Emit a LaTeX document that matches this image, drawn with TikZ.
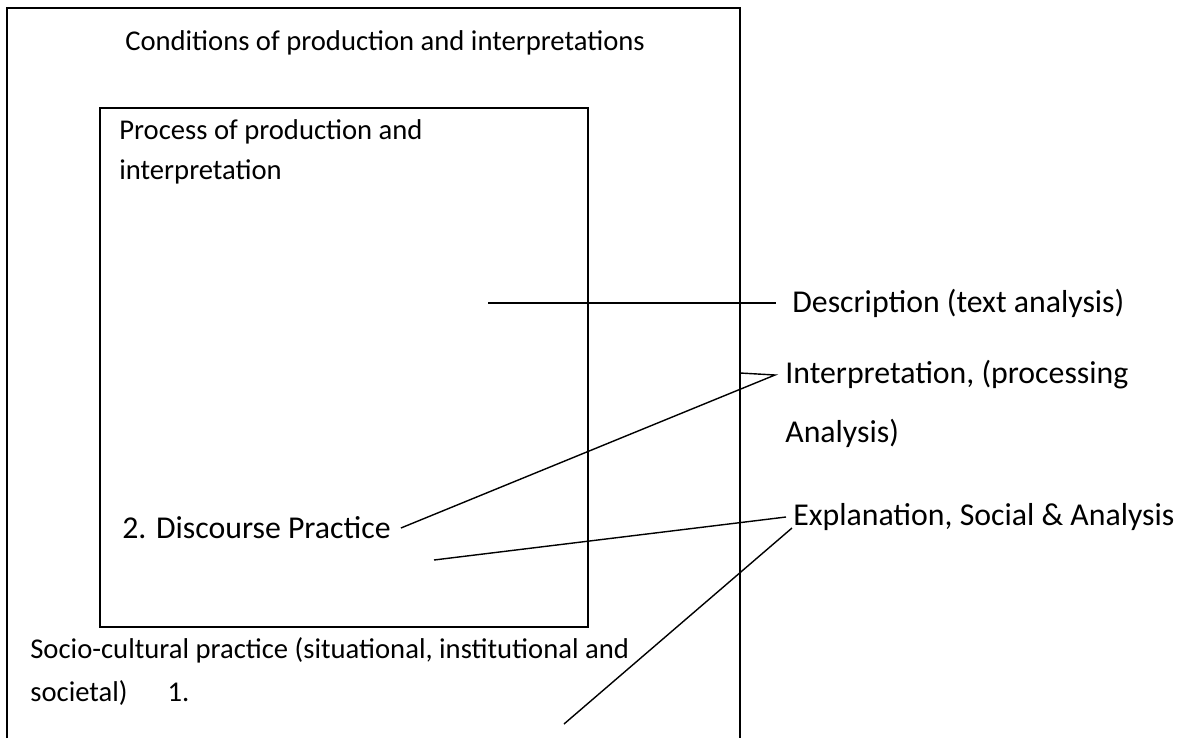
\documentclass[tikz,border=0pt]{standalone}
\usepackage{fontspec}
\setmainfont{Carlito}
\usetikzlibrary{positioning}

\begin{document}
\begin{tikzpicture}
[
x=0.02cm, y=-0.02cm,
box-a/.style={draw, line width=1pt},
link-a/.style={draw, line width=0.8pt},
text-s/.style={inner sep=0pt, anchor=west, font=\fontsize{16.3}{19}\selectfont},
text-b/.style={inner sep=0pt, anchor=west, font=\fontsize{18.1}{22}\selectfont}
]
\useasboundingbox (0,0) rectangle (1181,738);
% outer and inner frame
\draw [box-a] (7,738) -- (7,8) -- (740,8) -- (740,738);
\draw [box-a] (100,108) rectangle (588,627);
% texts
\node (cond)      [text-s, anchor=center] at (385,43)  {Conditions of production and interpretations};
\node (proc-1)    [text-s] at (119,132) {Process of production and};
\node (proc-2)    [text-s] at (119,172) {interpretation};
\node (desc)      [text-b] at (792,303) {Description (text analysis)};
\node (interp-1)  [text-b] at (785,375) {Interpretation, (processing};
\node (interp-2)  [text-b] at (785,433) {Analysis)};
\node (disc)      [text-b] at (122,528) {2. Discourse Practice};
\node (expl)      [text-b] at (793,517) {Explanation, Social \& Analysis};
\node (socio-1)   [text-s] at (30,650)  {Socio-cultural practice (situational, institutional and};
\node (socio-2)   [text-s] at (30,693)  {societal)\hspace{0.8cm}1.};
% line ends
\coordinate (desc-free)   at (488,303);
\coordinate [left=0.32cm of desc.west]      (desc-tip);
\coordinate (interp-free) at (740,373);
\coordinate [left=0.2cm of interp-1.west]   (interp-tip);
\coordinate [right=0.2cm of disc.east]      (disc-tip);
\coordinate (expl-free-a) at (434,560);
\coordinate [left=0.14cm of expl.west]      (expl-tip-a);
\coordinate (expl-tip-b)  at (792,528);
\coordinate (expl-free-b) at (564,724);
% connectors
\draw [link-a] (desc-free) -- (desc-tip);
\draw [link-a] (interp-free) -- (interp-tip) -- (disc-tip);
\draw [link-a] (expl-free-a) -- (expl-tip-a);
\draw [link-a] (expl-tip-b) -- (expl-free-b);
\end{tikzpicture}
\end{document}
